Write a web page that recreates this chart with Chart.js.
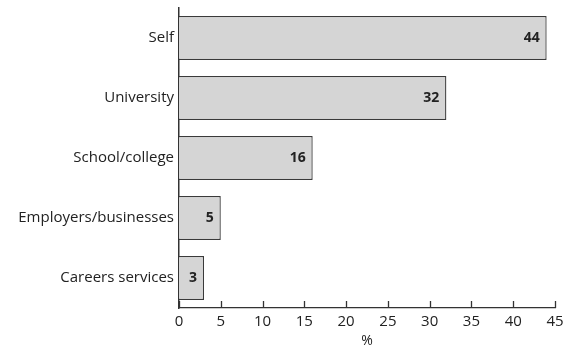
<!DOCTYPE html>
<html>
<head>
<meta charset="utf-8">
<script src="https://cdn.jsdelivr.net/npm/chart.js@4"></script>
<style>
  html, body { margin: 0; padding: 0; background: #fff; }
  #wrap { width: 563px; height: 349px; }
</style>
</head>
<body>
<div id="wrap"><canvas id="myChart"></canvas></div>
<script>
// datos del grafico
const sources = ['Self', 'University', 'School/college', 'Employers/businesses', 'Careers services'];
const percentages = [44, 32, 16, 5, 3];
const xTicks = [0, 5, 10, 15, 20, 25, 30, 35, 40, 45];

const fontFamily = '"Open Sans", "Noto Sans", sans-serif';
const textColor = '#222';

// etiquetas de valor al final de cada barra
const valueLabels = {
    id: 'valueLabels',
    afterDatasetsDraw(chart) {
        const c = chart.ctx;
        const meta = chart.getDatasetMeta(0);
        c.save();
        c.font = 'bold 14px ' + fontFamily;
        c.fillStyle = textColor;
        c.textAlign = 'right';
        c.textBaseline = 'middle';
        meta.data.forEach(function (bar, i) {
            c.fillText(String(percentages[i]), bar.x - 7, bar.y);
        });
        c.restore();
    }
};

// marcas pequeñas del eje x hacia arriba
const innerTicks = {
    id: 'innerTicks',
    afterDraw(chart) {
        const c = chart.ctx;
        const xs = chart.scales.x;
        const yBottom = chart.chartArea.bottom;
        c.save();
        c.strokeStyle = '#333';
        c.lineWidth = 1.3;
        xs.ticks.forEach(function (t) {
            const px = Math.round(xs.getPixelForValue(t.value)) + 0.5;
            c.beginPath();
            c.moveTo(px, yBottom);
            c.lineTo(px, yBottom - 7);
            c.stroke();
        });
        c.restore();
    }
};

const ctx = document.getElementById('myChart').getContext('2d');
const myChart = new Chart(ctx, {
    type: 'bar',
    data: {
        labels: sources,
        datasets: [{
            data: percentages,
            backgroundColor: '#d5d5d5',
            borderColor: '#3a3a3a',
            borderWidth: 1.3,
            borderSkipped: 'left',
            barPercentage: 0.8,
            categoryPercentage: 0.92
        }]
    },
    options: {
        indexAxis: 'y',
        responsive: true,
        maintainAspectRatio: false,
        animation: false,
        layout: { padding: { top: 8, right: 8, left: 0, bottom: 0 } },
        plugins: {
            legend: { display: false },
            tooltip: { enabled: false }
        },
        scales: {
            x: {
                min: 0,
                max: 45,
                afterBuildTicks: function (scale) {
                    scale.ticks = xTicks.map(function (v) { return { value: v }; });
                },
                afterFit: function (scale) {
                    scale.height = 41;
                    scale.paddingLeft = 0;
                    scale.paddingRight = 0;
                },
                grid: { display: false, drawTicks: false },
                border: { display: true, color: '#333', width: 1.3 },
                ticks: {
                    color: textColor,
                    padding: 5,
                    font: { family: fontFamily, size: 15 }
                },
                title: {
                    display: true,
                    text: '%',
                    color: textColor,
                    padding: { top: 0, bottom: 0 },
                    font: { family: fontFamily, size: 14 }
                }
            },
            y: {
                afterFit: function (scale) {
                    scale.width = 179;
                    scale.paddingTop = 0;
                    scale.paddingBottom = 0;
                },
                grid: { display: false, drawTicks: false },
                border: { display: true, color: '#333', width: 1.5 },
                ticks: {
                    color: textColor,
                    padding: 5,
                    font: { family: fontFamily, size: 15 }
                }
            }
        }
    },
    plugins: [valueLabels, innerTicks]
});
</script>
</body>
</html>
